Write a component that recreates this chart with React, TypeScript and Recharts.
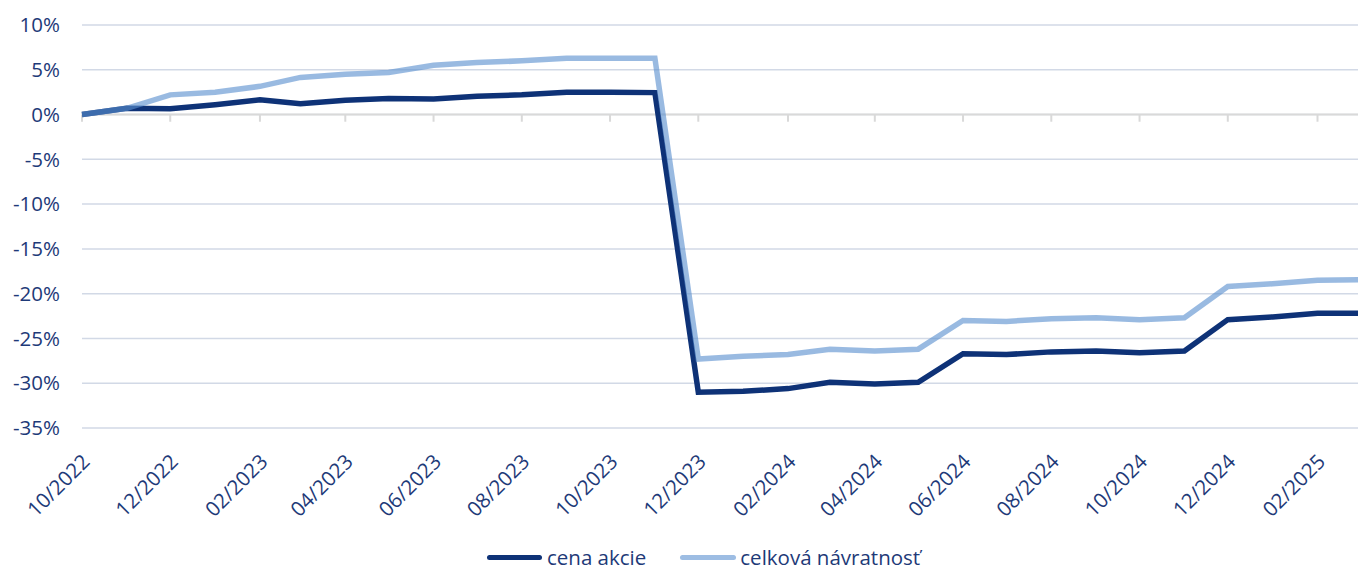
import React from "react";
import {
  LineChart,
  Line,
  XAxis,
  YAxis,
  CartesianGrid,
  ReferenceLine,
  Legend,
} from "recharts";

// monthly points, 10/2022 .. 03/2025
const months = [
  "2022-10", "2022-11", "2022-12", "2023-01", "2023-02", "2023-03",
  "2023-04", "2023-05", "2023-06", "2023-07", "2023-08", "2023-09",
  "2023-10", "2023-11", "2023-12", "2024-01", "2024-02", "2024-03",
  "2024-04", "2024-05", "2024-06", "2024-07", "2024-08", "2024-09",
  "2024-10", "2024-11", "2024-12", "2025-01", "2025-02", "2025-03",
];

// cena akcie (%)
const cenaAkcie = [
  0, 0.7, 0.65, 1.1, 1.65, 1.2, 1.6, 1.8, 1.75, 2.05, 2.2, 2.5, 2.5, 2.45,
  -31.0, -30.9, -30.6, -29.9, -30.1, -29.9, -26.7, -26.8, -26.5, -26.4,
  -26.6, -26.4, -22.9, -22.6, -22.2, -22.2,
];

// celková návratnosť (%)
const celkovaNavratnost = [
  0, 0.7, 2.2, 2.5, 3.15, 4.15, 4.5, 4.7, 5.5, 5.8, 6.0, 6.3, 6.3, 6.3,
  -27.3, -27.0, -26.8, -26.2, -26.4, -26.2, -23.0, -23.1, -22.8, -22.7,
  -22.9, -22.7, -19.2, -18.9, -18.5, -18.45,
];

const yTicks = [10, 5, 0, -5, -10, -15, -20, -25, -30, -35];

const NAVY = "#0e3277";
const LIGHT = "#9dbde3";
const TEXT = "#1e3a78";
const FONT = "'Open Sans', sans-serif";
const FS = 20.5;

const toTime = (m: string) => {
  const [y, mo] = m.split("-").map(Number);
  return Date.UTC(y, mo - 1, 1);
};

const data = months.map((m, i) => ({
  t: toTime(m),
  cena: cenaAkcie[i],
  celkova: celkovaNavratnost[i],
}));

// every other month gets a label
const xTicks = months.filter((_, i) => i % 2 === 0 && i < 29).map(toTime);

const fmtMonth = (t: number) => {
  const d = new Date(t);
  const mm = String(d.getUTCMonth() + 1).padStart(2, "0");
  return `${mm}/${d.getUTCFullYear()}`;
};

const XTick = (props: any) => {
  const { x, y, payload } = props;
  const ax = x + 9;
  const ay = y + 35;
  return (
    <text
      x={ax}
      y={ay}
      transform={`rotate(-45, ${ax}, ${ay})`}
      textAnchor="end"
      fill={TEXT}
      fontSize={FS}
      fontFamily={FONT}
    >
      {fmtMonth(payload.value)}
    </text>
  );
};

const renderLegend = () => (
  <div
    style={{
      display: "flex",
      alignItems: "center",
      paddingLeft: 487,
      paddingTop: 5,
      height: 25,
      fontFamily: FONT,
      fontSize: FS,
      color: TEXT,
      lineHeight: "25px",
      whiteSpace: "nowrap",
    }}
  >
    <span style={{ width: 55, height: 5, borderRadius: 3, background: NAVY, marginRight: 5 }} />
    <span style={{ marginRight: 34 }}>cena akcie</span>
    <span style={{ width: 56, height: 5, borderRadius: 3, background: LIGHT, marginRight: 4 }} />
    <span>celková návratnosť</span>
  </div>
);

export default function App() {
  return (
    <div style={{ position: "absolute", left: 0, top: 0, background: "#fff" }}>
      <LineChart
        width={1358}
        height={572}
        data={data}
        margin={{ top: 25, right: 0, bottom: 0, left: 0 }}
      >
        <CartesianGrid horizontal vertical={false} stroke="#d2d9e6" strokeWidth={1.5} />
        <XAxis
          dataKey="t"
          type="number"
          domain={[toTime(months[0]), toTime(months[months.length - 1])]}
          ticks={xTicks}
          interval={0}
          height={112}
          axisLine={false}
          tickLine={false}
          tickSize={0}
          tickMargin={0}
          tick={<XTick />}
        />
        <YAxis
          type="number"
          domain={[-35, 10]}
          ticks={yTicks}
          width={82}
          axisLine={false}
          tickLine={false}
          tickSize={0}
          tickMargin={22}
          tickFormatter={(v) => `${v}%`}
          tick={{ fill: TEXT, fontSize: FS, fontFamily: FONT }}
        />
        <ReferenceLine y={0} stroke="#d9d9d9" strokeWidth={2} />
        {xTicks.map((t) => (
          <ReferenceLine
            key={t}
            segment={[
              { x: t, y: 0 },
              { x: t, y: -0.8 },
            ]}
            stroke="#d9d9d9"
            strokeWidth={2}
          />
        ))}
        <Legend verticalAlign="bottom" height={32} content={renderLegend} />
        <Line
          type="linear"
          dataKey="cena"
          name="cena akcie"
          stroke={NAVY}
          strokeWidth={5.5}
          dot={false}
          isAnimationActive={false}
        />
        <Line
          type="linear"
          dataKey="celkova"
          name="celková návratnosť"
          stroke="#5b90cf"
          strokeOpacity={0.62}
          strokeWidth={5.5}
          dot={false}
          isAnimationActive={false}
        />
      </LineChart>
    </div>
  );
}
